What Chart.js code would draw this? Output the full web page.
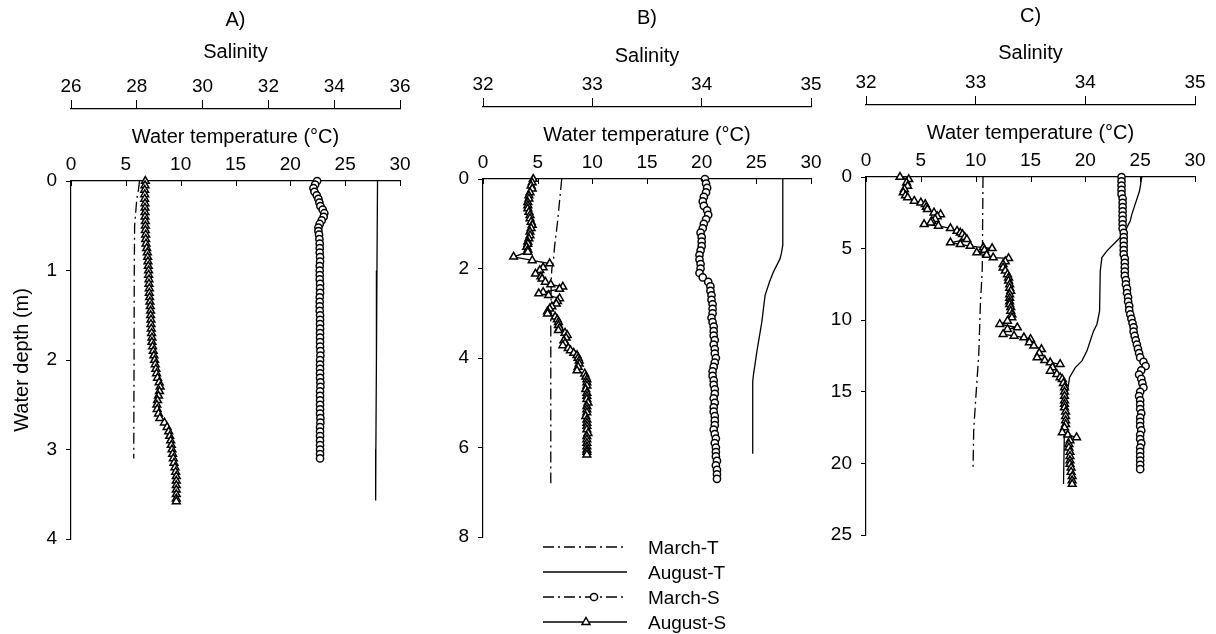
<!DOCTYPE html>
<html lang="en">
<head>
  <meta charset="UTF-8" />
  <title>Water temperature and salinity profiles</title>
  <script src="https://cdn.jsdelivr.net/npm/chart.js"></script>
  <style>
    body { margin: 0; background: #fff; font-family: Arial, "Liberation Sans", sans-serif; }
    #wrap { position: relative; width: 1216px; height: 634px; overflow: hidden; }
    .panel { position: absolute; }
    #legend { position: absolute; left: 530px; top: 530px; }
  </style>
</head>
<body>
  <div id="wrap">
    <div class="panel" style="left:0px; top:0px"><canvas id="chartA" width="420" height="560"></canvas></div>
    <div class="panel" style="left:412px; top:-2px"><canvas id="chartB" width="419" height="560"></canvas></div>
    <div class="panel" style="left:795px; top:-4px"><canvas id="chartC" width="420" height="560"></canvas></div>
    <svg id="legend" width="250" height="104"></svg>
  </div>

  <script>
    // ---- Panel A ----
    const aMarTDepth = [0, 0.1, 0.2, 0.35, 0.5, 1.0, 2.0, 3.1];
    const aMarT = [6.25, 6.15, 6.0, 5.9, 5.8, 5.77, 5.75, 5.72];
    const aAugTDepth = [0, 1, 2, 3, 3.57];
    const aAugT = [27.95, 27.9, 27.85, 27.8, 27.78];
    const aMarSDepth = [0, 0.04, 0.08, 0.12, 0.16, 0.2, 0.24, 0.28, 0.32, 0.36, 0.4, 0.44, 0.48, 0.52, 0.56, 0.6,
      0.65, 0.7, 0.75, 0.8, 0.85, 0.9, 0.95, 1.0, 1.05, 1.1, 1.15, 1.2, 1.25, 1.3, 1.35, 1.4, 1.45, 1.5,
      1.55, 1.6, 1.65, 1.7, 1.75, 1.8, 1.85, 1.9, 1.95, 2.0, 2.05, 2.1, 2.15, 2.2, 2.25, 2.3, 2.35, 2.4,
      2.45, 2.5, 2.55, 2.6, 2.65, 2.7, 2.75, 2.8, 2.85, 2.9, 2.95, 3.0, 3.05, 3.1];
    const aMarS = [33.48, 33.42, 33.37, 33.40, 33.47, 33.52, 33.55, 33.58, 33.65, 33.70, 33.68, 33.62, 33.56, 33.52, 33.52, 33.54,
      33.55, 33.56, 33.56, 33.56, 33.57, 33.57, 33.56, 33.56, 33.56, 33.56, 33.57, 33.57, 33.57, 33.56, 33.56, 33.56, 33.56, 33.57,
      33.57, 33.57, 33.57, 33.57, 33.57, 33.57, 33.57, 33.58, 33.58, 33.57, 33.57, 33.57, 33.57, 33.57, 33.58, 33.58, 33.57, 33.57,
      33.57, 33.57, 33.57, 33.57, 33.58, 33.58, 33.57, 33.57, 33.57, 33.57, 33.57, 33.57, 33.57, 33.57];
    const aAugSDepth = [0, 0.05, 0.1, 0.15, 0.2, 0.25, 0.3, 0.35, 0.4, 0.45, 0.5, 0.55, 0.6, 0.65, 0.7, 0.75, 0.8, 0.85,
      0.9, 0.95, 1.0, 1.05, 1.1, 1.15, 1.2, 1.25, 1.3, 1.35, 1.4, 1.45, 1.5, 1.55, 1.6, 1.65, 1.7, 1.75, 1.8, 1.85,
      1.9, 1.95, 2.0, 2.05, 2.1, 2.15, 2.2, 2.25, 2.3, 2.35, 2.4, 2.45, 2.5, 2.55, 2.6, 2.65, 2.7, 2.75, 2.8, 2.85,
      2.9, 2.95, 3.0, 3.05, 3.1, 3.15, 3.2, 3.25, 3.3, 3.35, 3.4, 3.45, 3.5, 3.55, 3.58];
    const aAugS = [28.26, 28.25, 28.24, 28.24, 28.24, 28.25, 28.25, 28.25, 28.25, 28.26, 28.26, 28.26, 28.27, 28.27, 28.28, 28.30, 28.32, 28.33,
      28.34, 28.35, 28.36, 28.36, 28.37, 28.37, 28.38, 28.38, 28.39, 28.40, 28.41, 28.42, 28.42, 28.43, 28.43, 28.44, 28.45, 28.46, 28.46, 28.48,
      28.50, 28.52, 28.54, 28.56, 28.58, 28.60, 28.63, 28.68, 28.71, 28.69, 28.66, 28.63, 28.61, 28.62, 28.66, 28.70, 28.84, 28.92, 28.97, 29.00,
      29.03, 29.05, 29.07, 29.09, 29.11, 29.13, 29.16, 29.18, 29.20, 29.20, 29.20, 29.20, 29.20, 29.20, 29.20];

    // ---- Panel B ----
    const bMarTDepth = [0, 0.5, 1.0, 1.5, 1.8, 2.0, 2.2, 3, 4, 5, 6, 6.8];
    const bMarT = [7.2, 7.0, 6.8, 6.55, 6.45, 6.3, 6.25, 6.2, 6.2, 6.2, 6.2, 6.2];
    const bAugTDepth = [0, 1.48, 1.65, 1.78, 2.08, 2.3, 2.6, 3.2, 3.87, 4.39, 4.53, 6.14];
    const bAugT = [27.42, 27.42, 27.3, 27.17, 26.56, 26.2, 25.8, 25.5, 25.04, 24.73, 24.67, 24.67];
    const bMarSDepth = [0, 0.1, 0.2, 0.3, 0.4, 0.5, 0.6, 0.7, 0.8, 0.9, 1.0, 1.1, 1.2, 1.3, 1.4, 1.5, 1.6, 1.7,
      1.8, 1.9, 2.0, 2.1, 2.2, 2.3, 2.4, 2.5, 2.6, 2.7, 2.8, 2.9, 3.0, 3.1, 3.2, 3.3, 3.4, 3.5, 3.6, 3.7,
      3.8, 3.9, 4.0, 4.1, 4.2, 4.3, 4.4, 4.5, 4.6, 4.7, 4.8, 4.9, 5.0, 5.1, 5.2, 5.3, 5.4, 5.5, 5.6, 5.7,
      5.8, 5.9, 6.0, 6.1, 6.2, 6.3, 6.4, 6.5, 6.6, 6.7];
    const bMarS = [34.03, 34.04, 34.05, 34.04, 34.02, 34.01, 34.02, 34.05, 34.06, 34.04, 34.02, 34.01, 33.99, 34.00, 34.00, 34.00, 33.99, 33.98,
      33.98, 33.99, 33.99, 33.98, 34.01, 34.06, 34.08, 34.08, 34.09, 34.09, 34.10, 34.10, 34.10, 34.09, 34.10, 34.11, 34.11, 34.11, 34.12, 34.11,
      34.12, 34.12, 34.13, 34.12, 34.11, 34.10, 34.10, 34.11, 34.11, 34.12, 34.12, 34.11, 34.12, 34.11, 34.11, 34.12, 34.12, 34.12, 34.11, 34.12,
      34.13, 34.12, 34.13, 34.13, 34.13, 34.14, 34.13, 34.14, 34.14, 34.14];
    const bAugSDepth = [0, 0.08, 0.15, 0.22, 0.3, 0.37, 0.44, 0.52, 0.59, 0.66, 0.74, 0.81, 0.88, 0.96, 1.03, 1.1, 1.18, 1.26,
      1.33, 1.4, 1.45, 1.52, 1.58, 1.63, 1.74, 1.82, 1.89, 1.98, 2.04, 2.12, 2.18, 2.23, 2.3, 2.36, 2.41, 2.46, 2.53, 2.56,
      2.6, 2.67, 2.73, 2.79, 2.85, 2.9, 2.96, 3.01, 3.08, 3.14, 3.2, 3.27, 3.33, 3.38, 3.44, 3.49, 3.55, 3.61, 3.67, 3.72,
      3.78, 3.83, 3.89, 3.94, 4.0, 4.06, 4.13, 4.2, 4.28, 4.35, 4.42, 4.48, 4.55, 4.62, 4.7, 4.78, 4.85, 4.92, 5.0, 5.08,
      5.15, 5.22, 5.3, 5.38, 5.45, 5.52, 5.6, 5.68, 5.75, 5.82, 5.9, 5.98, 6.05, 6.1, 6.16];
    const bAugS = [32.46, 32.45, 32.44, 32.45, 32.43, 32.42, 32.42, 32.41, 32.41, 32.41, 32.42, 32.43, 32.43, 32.44, 32.45, 32.44, 32.43, 32.43,
      32.42, 32.41, 32.41, 32.40, 32.41, 32.41, 32.28, 32.45, 32.61, 32.55, 32.52, 32.48, 32.53, 32.54, 32.57, 32.62, 32.73, 32.70, 32.55, 32.51,
      32.60, 32.70, 32.68, 32.67, 32.63, 32.61, 32.59, 32.59, 32.66, 32.68, 32.69, 32.69, 32.70, 32.69, 32.75, 32.77, 32.76, 32.74, 32.75, 32.73,
      32.78, 32.80, 32.83, 32.86, 32.87, 32.88, 32.88, 32.87, 32.86, 32.93, 32.94, 32.95, 32.95, 32.95, 32.94, 32.95, 32.95, 32.95, 32.96, 32.95,
      32.95, 32.95, 32.94, 32.95, 32.95, 32.95, 32.95, 32.96, 32.95, 32.95, 32.95, 32.95, 32.95, 32.95, 32.95];

    // ---- Panel C ----
    const cMarTDepth = [0, 6.5, 8.9, 12.4, 15.9, 17.7, 20.5];
    const cMarT = [10.67, 10.6, 10.43, 10.28, 9.97, 9.82, 9.76];
    const cAugTDepth = [0, 0.47, 0.98, 1.91, 2.61, 3.07, 4.0, 4.7, 5.16, 5.63, 6.56, 9.35, 10.28, 10.75, 11.44, 12.14,
      12.84, 13.31, 14.0, 14.47, 15.86, 18.19, 21.44];
    const cAugT = [25.15, 25.05, 24.94, 24.54, 24.24, 24.09, 23.48, 22.57, 21.97, 21.51, 21.36, 21.3, 21.06, 20.75, 20.45, 20.15,
      19.69, 19.08, 18.56, 18.47, 18.17, 18.08, 18.01];
    const cMarSDepth = [0, 0.3, 0.6, 0.9, 1.2, 1.5, 1.8, 2.1, 2.4, 2.7, 3, 3.3, 3.6, 3.9, 4.2, 4.5, 4.8, 5.1, 5.4, 5.7,
      6, 6.3, 6.6, 6.9, 7.2, 7.5, 7.8, 8.1, 8.4, 8.7, 9, 9.3, 9.6, 9.9, 10.2, 10.5, 10.8, 11.1, 11.4, 11.7,
      12, 12.3, 12.6, 12.9, 13.2, 13.5, 13.8, 14.1, 14.4, 14.7, 15, 15.3, 15.6, 15.9, 16.2, 16.5, 16.8, 17.1, 17.4, 17.7,
      18, 18.3, 18.6, 18.9, 19.2, 19.5, 19.8, 20.1, 20.4];
    const cMarS = [34.33, 34.33, 34.33, 34.33, 34.33, 34.34, 34.34, 34.34, 34.34, 34.34, 34.34, 34.34, 34.34, 34.35, 34.35, 34.35, 34.35, 34.35, 34.35, 34.36,
      34.36, 34.36, 34.36, 34.36, 34.37, 34.37, 34.38, 34.38, 34.39, 34.39, 34.40, 34.40, 34.41, 34.42, 34.43, 34.44, 34.44, 34.45, 34.46, 34.47,
      34.48, 34.49, 34.50, 34.53, 34.55, 34.51, 34.49, 34.51, 34.52, 34.53, 34.50, 34.49, 34.50, 34.50, 34.50, 34.51, 34.50, 34.50, 34.50, 34.51,
      34.50, 34.50, 34.51, 34.50, 34.50, 34.50, 34.50, 34.50, 34.50];
    const cAugSDepth = [0, 0.16, 0.4, 0.63, 0.85, 1.09, 1.3, 1.44, 1.67, 1.79, 1.91, 2.1, 2.26, 2.49, 2.61, 2.75, 2.95, 3.08, 3.19, 3.3,
      3.42, 3.58, 3.77, 3.9, 4.0, 4.2, 4.35, 4.58, 4.7, 4.82, 4.93, 4.98, 5.1, 5.28, 5.45, 5.63, 5.68, 5.9, 6.1, 6.33,
      6.55, 6.8, 7.03, 7.25, 7.5, 7.75, 7.96, 8.2, 8.45, 8.7, 8.89, 9.1, 9.35, 9.6, 9.82, 10.05, 10.28, 10.51, 10.63, 10.98,
      11.1, 11.21, 11.33, 11.55, 11.79, 12.03, 12.3, 12.61, 12.8, 12.96, 13.07, 13.3, 13.54, 13.77, 14.0, 14.12, 14.4, 14.7, 15.0, 15.3,
      15.6, 15.86, 16.1, 16.4, 16.7, 17.0, 17.26, 17.5, 17.84, 18.0, 18.19, 18.4, 18.66, 18.9, 19.2, 19.5, 19.8, 20.05, 20.3, 20.6,
      20.9, 21.2, 21.44];
    const cAugS = [32.31, 32.39, 32.37, 32.38, 32.35, 32.34, 32.36, 32.38, 32.44, 32.50, 32.54, 32.55, 32.56, 32.62, 32.68, 32.65, 32.63, 32.60, 32.59, 32.53,
      32.66, 32.77, 32.83, 32.86, 32.88, 32.90, 32.92, 32.77, 32.86, 32.95, 33.07, 33.15, 33.08, 33.01, 33.10, 33.16, 33.30, 33.27, 33.25, 33.25,
      33.27, 33.29, 33.30, 33.30, 33.31, 33.31, 33.32, 33.31, 33.31, 33.31, 33.31, 33.32, 33.32, 33.33, 33.33, 33.29, 33.22, 33.38, 33.29, 33.25,
      33.35, 33.44, 33.50, 33.49, 33.53, 33.60, 33.58, 33.56, 33.63, 33.68, 33.77, 33.70, 33.68, 33.74, 33.77, 33.79, 33.80, 33.81, 33.81, 33.81,
      33.81, 33.81, 33.81, 33.82, 33.82, 33.82, 33.82, 33.81, 33.79, 33.84, 33.92, 33.86, 33.85, 33.85, 33.86, 33.86, 33.86, 33.86, 33.87, 33.87,
      33.88, 33.88, 33.88];

    const legendNames = ['March-T', 'August-T', 'March-S', 'August-S'];
    const dashDot = [11, 4, 2, 4];

    Chart.defaults.font.family = 'Arial, "Liberation Sans", sans-serif';
    Chart.defaults.font.size = 19;
    Chart.defaults.color = '#000';

    function pts(depth, vals) {
      return depth.map((d, i) => ({ x: vals[i], y: d }));
    }

    function series(depth, vals, axis, dash, marker, radius) {
      return {
        data: pts(depth, vals),
        xAxisID: axis,
        showLine: true,
        borderColor: '#000',
        borderWidth: 1.3,
        borderDash: dash,
        pointStyle: marker || 'circle',
        pointRadius: marker ? radius : 0,
        pointBackgroundColor: '#fff',
        pointBorderColor: '#000',
        pointBorderWidth: 1.5,
        clip: false
      };
    }

    // temperature axis ticks point down into the plot
    const innerTicks = {
      id: 'innerTicks',
      afterDraw(chart) {
        const s = chart.scales.x, ctx = chart.ctx, top = chart.chartArea.top;
        ctx.save();
        ctx.strokeStyle = '#000';
        ctx.lineWidth = 1;
        s.ticks.forEach(t => {
          const px = Math.round(s.getPixelForValue(t.value)) + 0.5;
          ctx.beginPath();
          ctx.moveTo(px, top);
          ctx.lineTo(px, top + 5);
          ctx.stroke();
        });
        ctx.restore();
      }
    };

    function panel(id, p) {
      new Chart(document.getElementById(id), {
        type: 'scatter',
        data: {
          datasets: [
            series(p.augSd, p.augS, 'x2', [], 'triangle', 4.5),
            series(p.marSd, p.marS, 'x2', dashDot, 'circle', 3.6),
            series(p.augTd, p.augT, 'x', [], null),
            series(p.marTd, p.marT, 'x', dashDot, null)
          ]
        },
        options: {
          responsive: false,
          animation: false,
          layout: { padding: { left: 0, right: 20, top: 0, bottom: 21 } },
          plugins: {
            legend: { display: false },
            tooltip: { enabled: false },
            title: {
              display: true, text: p.name, fullSize: false, color: '#000',
              font: { size: 20, weight: 'normal' }, padding: { top: 8, bottom: 0 }
            }
          },
          scales: {
            x: {
              type: 'linear', position: 'top', weight: 0, min: 0, max: 30,
              ticks: { stepSize: 5, padding: 5, maxRotation: 0, autoSkip: false },
              grid: { drawOnChartArea: false, drawTicks: false },
              border: { color: '#000', width: 1.2 },
              title: { display: true, text: 'Water temperature (°C)', font: { size: 20 }, padding: { top: 16, bottom: 4 } },
              afterFit: s => { s.height = 72; }
            },
            x2: {
              type: 'linear', position: 'top', weight: 1, min: p.salMin, max: p.salMax,
              ticks: { stepSize: p.salStep, padding: 2, maxRotation: 0, autoSkip: false },
              grid: { drawOnChartArea: false, tickLength: 9, color: '#000' },
              border: { color: '#000', width: 1.2 },
              title: { display: true, text: 'Salinity', font: { size: 20 }, padding: { top: p.salPad, bottom: 4 } },
              afterFit: s => { s.height = 77; }
            },
            y: {
              type: 'linear', position: 'left', reverse: true, min: 0, max: p.depthMax,
              ticks: { stepSize: p.depthStep, padding: 9, autoSkip: false },
              grid: { drawOnChartArea: false, tickLength: 5, color: '#000' },
              border: { color: '#000', width: 1.2 },
              title: { display: p.yTitle, text: 'Water depth (m)', font: { size: 20 }, padding: { top: 10, bottom: 0 } },
              afterFit: s => { s.width = 71; }
            }
          }
        },
        plugins: [innerTicks]
      });
    }

    panel('chartA', {
      name: 'A)', salMin: 26, salMax: 36, salStep: 2, salPad: 8, depthMax: 4, depthStep: 1, yTitle: true,
      marTd: aMarTDepth, marT: aMarT, augTd: aAugTDepth, augT: aAugT,
      marSd: aMarSDepth, marS: aMarS, augSd: aAugSDepth, augS: aAugS
    });
    panel('chartB', {
      name: 'B)', salMin: 32, salMax: 35, salStep: 1, salPad: 14, depthMax: 8, depthStep: 2, yTitle: false,
      marTd: bMarTDepth, marT: bMarT, augTd: bAugTDepth, augT: bAugT,
      marSd: bMarSDepth, marS: bMarS, augSd: bAugSDepth, augS: bAugS
    });
    panel('chartC', {
      name: 'C)', salMin: 32, salMax: 35, salStep: 1, salPad: 13, depthMax: 25, depthStep: 5, yTitle: false,
      marTd: cMarTDepth, marT: cMarT, augTd: cAugTDepth, augT: cAugT,
      marSd: cMarSDepth, marS: cMarS, augSd: cAugSDepth, augS: cAugS
    });

    // shared legend under panel B
    function drawLegend() {
      const svg = document.getElementById('legend');
      const ns = 'http://www.w3.org/2000/svg';
      const add = (tag, attrs) => {
        const el = document.createElementNS(ns, tag);
        Object.entries(attrs).forEach(([k, v]) => el.setAttribute(k, v));
        svg.appendChild(el);
        return el;
      };
      legendNames.forEach((name, i) => {
        const y = 17 + i * 25;
        const dashed = name.startsWith('March');
        add('line', { x1: 13, y1: y, x2: 97, y2: y, stroke: '#000', 'stroke-width': 1.3,
          'stroke-dasharray': dashed ? dashDot.join(' ') : 'none' });
        if (name === 'March-S') add('circle', { cx: 64, cy: y, r: 3.6, fill: '#fff', stroke: '#000', 'stroke-width': 1.5 });
        if (name === 'August-S') add('polygon', { points: `56,${y - 4.5} 60,${y + 2.5} 52,${y + 2.5}`, fill: '#fff', stroke: '#000', 'stroke-width': 1.5 });
        const t = add('text', { x: 118, y: y + 7, 'font-size': 19, fill: '#000',
          'font-family': 'Arial, "Liberation Sans", sans-serif' });
        t.textContent = name;
      });
    }
    drawLegend();
  </script>
</body>
</html>
